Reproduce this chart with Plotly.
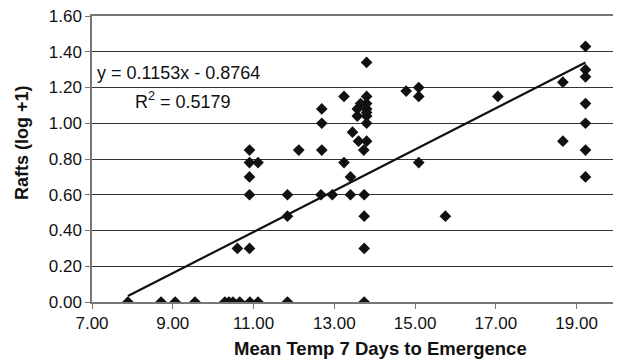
import plotly.graph_objects as go

temp = [7.89, 8.71, 9.06, 9.55, 10.29, 10.39, 10.49, 10.66, 10.91, 11.11, 11.84, 13.74,
        10.60, 10.90, 11.84,
        10.90, 11.84, 12.67, 12.95, 13.40, 13.74,
        10.90, 10.90, 11.11, 10.90, 12.12,
        13.80, 13.24, 13.80, 13.80, 13.80, 13.80, 13.80, 13.80,
        12.69, 12.69, 13.57, 13.57, 13.65, 13.45, 13.60, 13.80, 12.69, 13.73, 13.24, 13.40,
        14.78, 15.09, 15.09, 13.74, 13.74, 17.05, 15.09, 15.75,
        19.22, 19.22, 19.22, 18.66, 19.22, 19.22, 18.66, 19.22, 19.22]
rafts = [0.0, 0.0, 0.0, 0.0, 0.0, 0.0, 0.0, 0.0, 0.0, 0.0, 0.0, 0.0,
         0.30, 0.30, 0.48,
         0.60, 0.60, 0.60, 0.60, 0.60, 0.60,
         0.70, 0.78, 0.78, 0.85, 0.85,
         1.34, 1.15, 1.15, 1.11, 1.08, 1.06, 1.04, 1.00,
         1.08, 1.00, 1.08, 1.04, 1.11, 0.95, 0.90, 0.90, 0.85, 0.85, 0.78, 0.70,
         1.18, 1.20, 1.15, 0.48, 0.30, 1.15, 0.78, 0.48,
         1.43, 1.30, 1.26, 1.23, 1.11, 1.00, 0.90, 0.85, 0.70]

slope = 0.1153
intercept = -0.8764
trend_x = [min(temp), max(temp)]
trend_y = [slope * v + intercept for v in trend_x]

x_ticks = [7, 9, 11, 13, 15, 17, 19]
x_tick_labels = ["7.00", "9.00", "11.00", "13.00", "15.00", "17.00", "19.00"]
y_ticks = [0, 0.2, 0.4, 0.6, 0.8, 1.0, 1.2, 1.4, 1.6]
y_tick_labels = ["0.00", "0.20", "0.40", "0.60", "0.80", "1.00", "1.20", "1.40", "1.60"]

x_title = "Mean Temp 7 Days to Emergence"
y_title = "Rafts (log +1)"

font = "Liberation Sans, Arial, sans-serif"

fig = go.Figure()
fig.add_trace(go.Scatter(x=trend_x, y=trend_y, mode="lines",
                         line=dict(color="#111111", width=2.2), showlegend=False))
fig.add_trace(go.Scatter(x=temp, y=rafts, mode="markers",
                         marker=dict(symbol="diamond", size=9, color="#111111"),
                         showlegend=False))

fig.add_annotation(x=0.006, y=1.28, xref="paper", yref="y", xanchor="left", yanchor="middle",
                   text="y = 0.1153x - 0.8764", showarrow=False,
                   font=dict(family=font, size=18, color="#111111"))
fig.add_annotation(x=0.078, y=1.13, xref="paper", yref="y", xanchor="left", yanchor="middle",
                   text="R<sup>2</sup> = 0.5179", showarrow=False,
                   font=dict(family=font, size=18, color="#111111"))
# axis titles
fig.add_annotation(x=0.549, y=0, xref="paper", yref="paper", xanchor="center", yanchor="middle",
                   yshift=-46, text="<b>" + x_title + "</b>", showarrow=False,
                   font=dict(family=font, size=18.5, color="#111111"))
fig.add_annotation(x=0, y=0.556, xref="paper", yref="paper", xanchor="center", yanchor="middle",
                   xshift=-70, textangle=-90, text="<b>" + y_title + "</b>", showarrow=False,
                   font=dict(family=font, size=18, color="#111111"))

fig.update_layout(
    width=621, height=361,
    margin=dict(l=84, r=12, t=8, b=67, autoexpand=False),
    paper_bgcolor="white", plot_bgcolor="white",
    font=dict(family=font, size=17, color="#111111"),
    xaxis=dict(range=[7, 20], tickvals=x_ticks, ticktext=x_tick_labels, automargin=False,
               ticklabeloverflow="allow",
               showgrid=False, zeroline=False, showline=True, linecolor="#777777",
               linewidth=1.5, mirror=True, ticks="outside", ticklen=5, tickcolor="#777777",
               tickfont=dict(family=font, size=17)),
    yaxis=dict(range=[0, 1.6], tickvals=y_ticks, ticktext=y_tick_labels, automargin=False,
               ticklabeloverflow="allow",
               showgrid=True, gridcolor="#333333", gridwidth=1.2, zeroline=False,
               showline=True, linecolor="#777777", linewidth=1.5, mirror=True,
               ticks="outside", ticklen=5, tickcolor="#777777",
               tickfont=dict(family=font, size=17)),
)

fig.write_html("out.html")
